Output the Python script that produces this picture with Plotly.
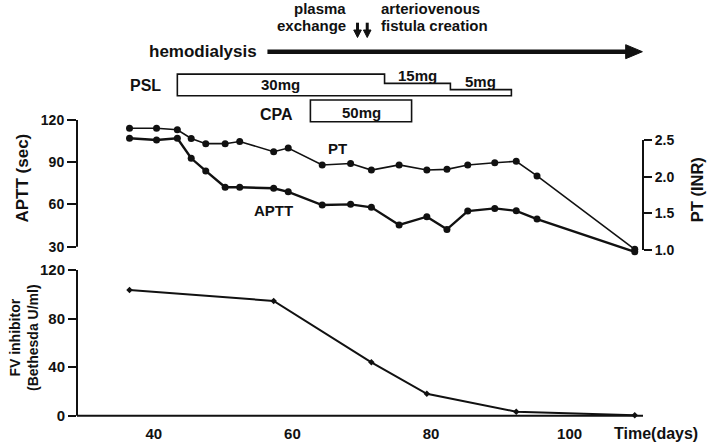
import plotly.graph_objects as go

# ---------------- data ----------------
days = [36.5, 40.4, 43.4, 45.4, 47.5, 50.3, 52.4, 57.3, 59.4, 64.3,
        68.4, 71.4, 75.4, 79.4, 82.3, 85.3, 89.2, 92.3, 95.3, 109.4]
pt_inr = [2.66, 2.66, 2.64, 2.52, 2.45, 2.45, 2.48, 2.34, 2.39, 2.16,
          2.18, 2.09, 2.16, 2.09, 2.10, 2.16, 2.19, 2.21, 2.01, 1.01]
aptt_sec = [107, 105.8, 107, 92.8, 83.8, 72.2, 72.2, 71.5, 69, 59.6,
            60.1, 58, 45.4, 51.3, 42.3, 55.3, 57.2, 55.5, 49.6, 26.4]
fv_days = [36.5, 57.3, 71.4, 79.4, 92.3, 109.4]
fv_bu = [103.5, 94.5, 44, 18, 3.3, 0.3]

x_ticks = [40, 60, 80, 100]
aptt_ticks = [30, 60, 90, 120]
pt_ticks = [1.0, 1.5, 2.0, 2.5]
fv_ticks = [0, 40, 80, 120]

hd_days = [56.4, 110.5]          # hemodialysis start / arrow tip
pe_days = [69.4, 70.8]           # plasma exchange
psl_days = [43.4, 73.3, 82.8, 91.6]
psl_doses = [30, 15, 5]
cpa_days = [62.6, 77.2]
cpa_dose = 50

# ---------------- geometry helpers ----------------
W, H = 708, 446
ML, MR = 76.5, 65.3
X40_PX, PX_PER_DAY = 153.3, 6.933
x_lo = 40 + (ML - X40_PX) / PX_PER_DAY
x_hi = 40 + (W - MR - X40_PX) / PX_PER_DAY
PW = W - ML - MR


def py(p):
    return 1 - p / H


def px_x(p):
    return (p - ML) / PW


def dd(px):
    return px / PX_PER_DAY


def yrange(v1, p1, v2, p2, top, bot):
    s = (p2 - p1) / (v1 - v2)
    return [v2 - (bot - p2) / s, v1 + (p1 - top) / s]


TOP_DOM = (106, 258)
BOT_DOM = (262, 420)
FONT = "Liberation Sans, Arial, sans-serif"
BLACK = "#111111"

fig = go.Figure()
fig.add_trace(go.Scatter(x=days, y=pt_inr, yaxis="y3", mode="lines+markers",
                         line=dict(color=BLACK, width=1.6),
                         marker=dict(color=BLACK, size=7), cliponaxis=False))
fig.add_trace(go.Scatter(x=days, y=aptt_sec, yaxis="y2", mode="lines+markers",
                         line=dict(color=BLACK, width=2.4),
                         marker=dict(color=BLACK, size=7), cliponaxis=False))
fig.add_trace(go.Scatter(x=fv_days, y=fv_bu, yaxis="y", mode="lines+markers",
                         line=dict(color=BLACK, width=2),
                         marker=dict(color=BLACK, size=5, symbol="diamond"),
                         cliponaxis=False))

tick_common = dict(showgrid=False, zeroline=False, showline=False,
                   ticks="outside", tickwidth=2, tickcolor=BLACK,
                   automargin=False)

fig.update_layout(
    width=W, height=H, autosize=False,
    margin=dict(l=ML, r=MR, t=0, b=0, pad=0),
    paper_bgcolor="white", plot_bgcolor="white",
    showlegend=False,
    font=dict(family=FONT, color=BLACK),
    xaxis=dict(range=[x_lo, x_hi], anchor="y", showgrid=False, zeroline=False,
               showline=False, ticks="", tickvals=x_ticks, ticklabelstandoff=3,
               tickfont=dict(size=15, weight="bold"), automargin=False),
    yaxis=dict(domain=[py(BOT_DOM[1]), py(BOT_DOM[0])],
               range=yrange(120, 270, 0, 415.7, *BOT_DOM),
               tickvals=fv_ticks, ticklen=8,
               tickfont=dict(size=15, weight="bold"), **tick_common),
    yaxis2=dict(domain=[py(TOP_DOM[1]), py(TOP_DOM[0])], anchor="x",
                range=yrange(120, 120, 30, 246.7, *TOP_DOM),
                tickvals=aptt_ticks, ticklen=9,
                tickfont=dict(size=14, weight="bold"), **tick_common),
    yaxis3=dict(overlaying="y2", side="right", anchor="x",
                range=yrange(2.5, 140, 1.0, 250, *TOP_DOM),
                tickvals=pt_ticks, tickformat=".1f", ticklen=8,
                tickfont=dict(size=14, weight="bold"), **tick_common),
)

shapes = []
# axis lines
shapes.append(dict(type="line", xref="paper", yref="y2", x0=0, x1=0,
                   y0=min(aptt_ticks), y1=max(aptt_ticks), line=dict(color=BLACK, width=2)))
shapes.append(dict(type="line", xref="paper", yref="y3", x0=1, x1=1,
                   y0=min(pt_ticks), y1=max(pt_ticks), line=dict(color=BLACK, width=2)))
shapes.append(dict(type="line", xref="paper", yref="y", x0=0, x1=0,
                   y0=min(fv_ticks), y1=max(fv_ticks), line=dict(color=BLACK, width=2)))
shapes.append(dict(type="line", xref="paper", yref="y", x0=0, x1=1,
                   y0=0, y1=0, line=dict(color=BLACK, width=2)))

# hemodialysis arrow
hd_y = py(51.7)
head_len = dd(16.7)
head_h = 7 / H
shapes.append(dict(type="line", xref="x", yref="paper", x0=hd_days[0],
                   x1=hd_days[1] - head_len + dd(1), y0=hd_y, y1=hd_y,
                   line=dict(color=BLACK, width=4.5)))
shapes.append(dict(type="path", xref="x", yref="paper",
                   path=f"M {hd_days[1]-head_len},{hd_y+head_h} L {hd_days[1]},{hd_y} "
                        f"L {hd_days[1]-head_len},{hd_y-head_h} Z",
                   fillcolor=BLACK, line=dict(color=BLACK, width=1)))

# plasma exchange arrows
for d in pe_days:
    shapes.append(dict(type="line", xref="x", yref="paper", x0=d, x1=d,
                       y0=py(22.7), y1=py(31), line=dict(color=BLACK, width=3)))
    hw = dd(3.8)
    shapes.append(dict(type="path", xref="x", yref="paper",
                       path=f"M {d-hw},{py(30)} L {d+hw},{py(30)} L {d},{py(37.5)} Z",
                       fillcolor=BLACK, line=dict(color=BLACK, width=1)))

# PSL step box
psl_bot = 95.7
psl_tops = [psl_bot - (3 + 0.62 * dose) for dose in psl_doses]
pts = [(psl_days[0], psl_bot)]
for i, top in enumerate(psl_tops):
    pts.append((psl_days[i], top))
    pts.append((psl_days[i + 1], top))
pts.append((psl_days[-1], psl_bot))
path = "M " + " L ".join(f"{x},{py(y)}" for x, y in pts) + " Z"
shapes.append(dict(type="path", xref="x", yref="paper", path=path,
                   line=dict(color=BLACK, width=1.6), fillcolor="rgba(0,0,0,0)"))

# CPA box
cpa_top, cpa_bot = 100, 121.7
shapes.append(dict(type="rect", xref="x", yref="paper", x0=cpa_days[0], x1=cpa_days[1],
                   y0=py(cpa_bot), y1=py(cpa_top), line=dict(color=BLACK, width=1.6)))

annotations = []


def note(text, x, y, size, xref="paper", xanchor="center", xshift=0, angle=0):
    annotations.append(dict(text=f"<b>{text}</b>", x=x, y=y, xref=xref, yref="paper",
                            xanchor=xanchor, yanchor="middle", xshift=xshift,
                            showarrow=False, textangle=angle,
                            font=dict(size=size, family=FONT, color=BLACK)))


note("plasma", pe_days[0], py(8.3), 15, xref="x", xanchor="right", xshift=-10)
note("exchange", pe_days[0], py(26), 15, xref="x", xanchor="right", xshift=-10)
note("arteriovenous", pe_days[1], py(8.3), 15, xref="x", xanchor="left", xshift=12)
note("fistula creation", pe_days[1], py(26), 15, xref="x", xanchor="left", xshift=12)
note("hemodialysis", hd_days[0], py(51), 17, xref="x", xanchor="right", xshift=-8)
note("PSL", psl_days[0], py(85), 16, xref="x", xanchor="right", xshift=-14)
note("CPA", cpa_days[0], py(114), 16, xref="x", xanchor="right", xshift=-15)
for i, dose in enumerate(psl_doses):
    cx = (psl_days[i] + psl_days[i + 1]) / 2
    cy = (psl_tops[i] + psl_bot) / 2 if i == 0 else psl_tops[i] - 8.3
    note(f"{dose}mg", cx, py(cy), 15, xref="x")
note(f"{cpa_dose}mg", (cpa_days[0] + cpa_days[1]) / 2, py(113), 15, xref="x")

note("PT", px_x(336.7), py(148.3), 15)
note("APTT", px_x(273.3), py(210), 15)
note("Time(days)", px_x(611.7), py(433), 16, xanchor="left")
note("APTT (sec)", px_x(21), py(178), 17, angle=-90)
note("PT (INR)", px_x(697), py(190), 16.5, angle=-90)
note("FV inhibitor<br>(Bethesda U/ml)", px_x(23.5), py(338), 14, angle=-90)

fig.update_layout(shapes=shapes, annotations=annotations)
fig.write_html("out.html", config={"displayModeBar": False},
               post_script="document.body.style.margin='0';document.body.style.padding='0';")
